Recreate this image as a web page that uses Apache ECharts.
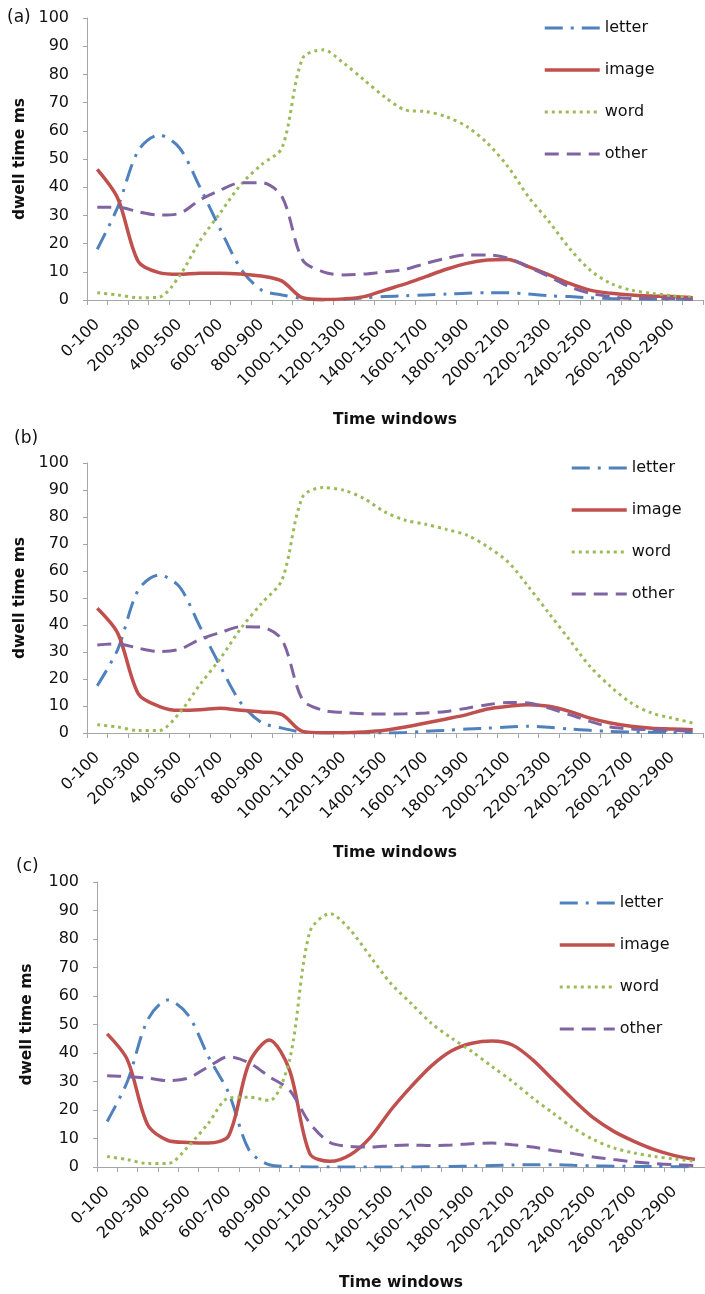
<!DOCTYPE html>
<html>
<head>
<meta charset="utf-8">
<script src="https://cdn.jsdelivr.net/npm/echarts@6/dist/echarts.min.js"></script>
<style>
html,body{margin:0;padding:0;background:#fff;}
#chart{width:705px;height:1294px;}
</style>
</head>
<body>
<div id="chart"></div>
<script>
const categories = ['0-100','100-200','200-300','300-400','400-500','500-600','600-700','700-800','800-900','900-1000',
  '1000-1100','1100-1200','1200-1300','1300-1400','1400-1500','1500-1600','1600-1700','1700-1800','1800-1900','1900-2000',
  '2000-2100','2100-2200','2200-2300','2300-2400','2400-2500','2500-2600','2600-2700','2700-2800','2800-2900','2900-3000'];
const yTicks = [0,10,20,30,40,50,60,70,80,90,100];
const seriesNames = ['letter','image','word','other'];
const panelLabels = ['(a)','(b)','(c)'];

// Panel (a)
const letterA = [18,33,53,58.5,54,40,25,11,3.5,1.8,0.5,0,0.2,0.8,1.2,1.5,1.8,2.1,2.4,2.6,2.6,2.1,1.5,1.2,0.8,0.5,0.4,0.3,0.3,0.3];
const imageA  = [46.3,36,13.6,9.7,9.1,9.5,9.5,9.2,8.5,6.7,0.8,0.2,0.4,1.2,3.5,5.7,8.3,10.9,13,14.2,14.4,11.8,8.9,5.9,3.5,2.4,1.8,1.4,1.2,0.8];
const wordA   = [2.6,1.8,0.8,1.0,8.5,21,31,41,48,54,85.7,88.7,84,78,72,67.4,66.8,65,61.5,55.6,47.3,36.6,27.8,18.3,10.6,5.9,3.5,2.4,1.5,0.9];
const otherA  = [32.9,32.9,31.3,30.1,30.7,35.5,39,41.6,41.6,36.6,14.2,10,8.9,9.2,10,10.9,13,14.8,16,16,14.8,11.8,8.3,4.7,2.4,1.2,0.6,0.6,0.5,0.3];

// Panel (b)
const letterB = [17.5,31,53,58.5,54.2,39.4,24.6,11.1,3.9,1.8,0.3,0,0,0,0,0.2,0.6,1,1.5,1.8,2.2,2.5,2.1,1.5,1,0.6,0.4,0.3,0.2,0.2];
const imageB  = [46.2,36.9,14.5,9.9,8.4,8.6,9.2,8.4,7.8,6.8,0.6,0.1,0.1,0.4,1,2.2,3.7,5.2,6.8,8.9,9.9,10.5,9.9,8,5.5,3.7,2.5,1.8,1.5,1.2];
const wordB   = [3.1,2.2,0.9,0.9,7.4,17.9,27.7,38.8,48,56.7,87.4,90.9,89.9,86.8,81.9,78.8,77.3,75.4,73.3,69,63.4,54.2,44.3,34.5,24.6,17.2,11.1,7.4,5.5,3.7];
const otherB  = [32.6,33,31.4,30.2,31,34.7,37.2,39.4,39.2,34.5,12.3,8.4,7.6,7.1,7,7.1,7.4,8,9.2,10.5,11.3,11.1,9.2,6.8,4.3,2.2,1.5,1.2,1,0.6];

// Panel (c)
const letterC = [16,30,51.6,58.6,53.3,38.7,25.9,6,0.8,0.2,0,0,0,0,0,0,0.1,0.2,0.3,0.5,0.7,0.8,0.8,0.6,0.4,0.3,0.2,0.2,0.1,0.1];
const imageC  = [46.7,37.6,14.8,9.3,8.6,8.4,11,36.4,44.6,34,4.7,2,4.3,10.5,20,28.2,35.5,40.8,43.4,44.2,42.8,37.6,30.6,23.6,17.2,12.5,9,6.1,4,2.6];
const wordC   = [3.7,2.6,1.2,1.2,7.2,15.4,24.2,24.5,23.3,37.6,82.5,88.9,83.1,73.7,64.4,57.4,50.4,45.2,40.5,35.2,30,24.2,18.9,13.7,9.6,6.7,4.9,3.7,2.8,2];
const otherC  = [32,31.7,31.2,30.3,31.2,35.2,38.7,36.6,31.7,27,15.4,8.6,7.2,7,7.5,7.7,7.5,7.7,8.2,8.4,7.8,7,5.8,4.7,3.5,2.6,1.8,1.2,0.8,0.5];

const panels = [
  {letter: letterA, image: imageA, word: wordA, other: otherA},
  {letter: letterB, image: imageB, word: wordB, other: otherB},
  {letter: letterC, image: imageC, word: wordC, other: otherC}
];

const FONT = 'DejaVu Sans';
const styles = {
  letter: {color:'#4F81BD', width:3, type:[18,8,3,8]},
  image:  {color:'#C0504D', width:3.5, type:'solid'},
  word:   {color:'#9BBB59', width:3, type:[3,4]},
  other:  {color:'#8064A2', width:3, type:[14,8]}
};

const grids = [
  {left:87, top:18, width:616, height:282},
  {left:87, top:463, width:616, height:270},
  {left:97, top:882, width:618, height:285}
];
const yNameGap = [59, 59, 62];
const xNameGap = [112, 112, 108];
const legendPos = [
  {left:543, top:20},
  {left:570, top:460},
  {left:558, top:895}
];
const labelPos = [[7,19],[14,440],[16,868]];

const axisColor = '#A6A6A6';
const xAxes = [], yAxes = [], series = [], legends = [], graphics = [];
grids.forEach((g, k) => {
  xAxes.push({
    type:'category', gridIndex:k, data:categories, boundaryGap:true,
    axisLine:{lineStyle:{color:axisColor, width:1}},
    axisTick:{show:true, interval:0, length:5, lineStyle:{color:axisColor}},
    axisLabel:{interval:1, rotate:45, margin:22, fontSize:16, fontFamily:FONT, color:'#111'},
    splitLine:{show:false},
    name:'Time windows', nameLocation:'middle', nameGap:xNameGap[k],
    nameTextStyle:{fontFamily:FONT, fontWeight:'bold', fontSize:15.5, color:'#111'}
  });
  yAxes.push({
    type:'value', gridIndex:k, min:yTicks[0], max:yTicks[yTicks.length-1], interval:yTicks[1]-yTicks[0],
    axisLine:{show:true, lineStyle:{color:axisColor, width:1}},
    axisTick:{show:true, length:4, lineStyle:{color:axisColor}},
    axisLabel:{margin:18, fontSize:16, fontFamily:FONT, color:'#111'},
    splitLine:{show:false},
    name:'dwell time ms', nameLocation:'middle', nameGap:yNameGap[k], nameRotate:90,
    nameTextStyle:{fontFamily:FONT, fontWeight:'bold', fontSize:15.5, color:'#111'}
  });
  seriesNames.forEach(n => {
    const s = styles[n];
    series.push({
      name:n, type:'line', xAxisIndex:k, yAxisIndex:k, data:panels[k][n],
      symbol:'none', smooth:0.3,
      lineStyle:{color:s.color, width:s.width, type:s.type, cap:'butt'},
      itemStyle:{color:s.color}
    });
  });
  legends.push({
    orient:'vertical', left:legendPos[k].left, top:legendPos[k].top, padding:0,
    itemWidth:55, itemHeight:16, itemGap:26,
    data:seriesNames.map(n => ({name:n, lineStyle:{width:styles[n].width, type:styles[n].type, color:styles[n].color}})),
    itemStyle:{opacity:0, borderWidth:0},
    textStyle:{fontFamily:FONT, fontSize:16, color:'#111', lineHeight:16}
  });
  graphics.push({
    type:'text', left:labelPos[k][0], top:labelPos[k][1]-10,
    style:{text:panelLabels[k], font:'17px "DejaVu Sans"', fill:'#111'}
  });
});

const chart = echarts.init(document.getElementById('chart'), null, {renderer:'canvas'});
chart.setOption({
  animation:false,
  backgroundColor:'#fff',
  textStyle:{fontFamily:FONT},
  grid:grids,
  xAxis:xAxes,
  yAxis:yAxes,
  legend:legends,
  series:series,
  graphic:graphics
});
</script>
</body>
</html>
